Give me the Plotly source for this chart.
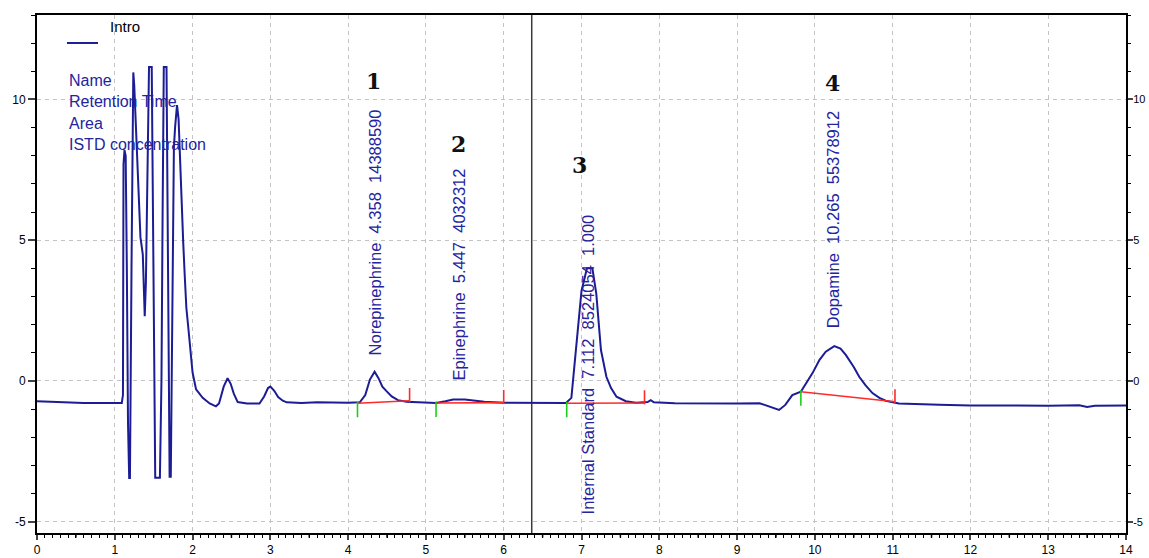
import plotly.graph_objects as go

# ---------------- data ----------------
time_min = [0.00, 0.30, 0.60, 0.90, 1.09, 1.105, 1.108, 1.112, 1.125, 1.14, 1.155, 1.17, 1.185,
            1.195, 1.215, 1.238, 1.25, 1.27, 1.31, 1.33, 1.36, 1.385, 1.40, 1.42, 1.44, 1.475,
            1.49, 1.51, 1.52, 1.58, 1.60, 1.615, 1.63, 1.665, 1.68, 1.695, 1.705, 1.72, 1.735,
            1.76, 1.775, 1.80, 1.82, 1.84, 1.86, 1.88, 1.90, 1.92, 1.945, 1.967, 2.00, 2.045,
            2.13, 2.22, 2.30, 2.34, 2.40, 2.45, 2.49, 2.53, 2.58, 2.70, 2.86, 2.92, 2.97, 3.00,
            3.05, 3.10, 3.16, 3.21, 3.40, 3.60, 3.80, 4.00, 4.15, 4.22, 4.28, 4.34, 4.39, 4.44,
            4.49, 4.56, 4.64, 4.75, 4.90, 5.13, 5.25, 5.35, 5.50, 5.62, 5.75, 6.00, 6.40, 6.80,
            6.87, 6.93, 7.00, 7.07, 7.14, 7.19, 7.25, 7.32, 7.38, 7.45, 7.57, 7.70, 7.85, 7.89,
            7.93, 8.20, 8.60, 9.00, 9.29, 9.45, 9.54, 9.62, 9.71, 9.82, 9.97, 10.06, 10.14,
            10.25, 10.33, 10.40, 10.50, 10.57, 10.65, 10.74, 10.83, 10.91, 11.08, 11.60, 12.00,
            12.50, 13.00, 13.40, 13.50, 13.60, 14.00]
signal = [-0.72, -0.76, -0.78, -0.78, -0.78, -0.50, 1.50, 7.70, 8.20, 8.00, 4.00, -1.50, -3.45,
          -3.45, 4.00, 10.96, 10.50, 9.00, 6.00, 5.10, 4.50, 2.30, 3.50, 8.50, 11.15, 11.15,
          6.00, -2.00, -3.44, -3.44, 0.00, 6.00, 11.15, 11.15, 5.00, -2.00, -3.40, -3.40, 2.00,
          8.30, 9.00, 9.80, 9.30, 7.70, 6.30, 4.90, 3.70, 2.60, 1.90, 1.30, 0.30, -0.30,
          -0.60, -0.80, -0.90, -0.80, -0.20, 0.10, -0.10, -0.45, -0.75, -0.80, -0.80, -0.55, -0.25, -0.20,
          -0.35, -0.57, -0.70, -0.76, -0.78, -0.76, -0.77, -0.77, -0.76, -0.50, 0.05, 0.33, 0.10, -0.20,
          -0.35, -0.55, -0.68, -0.74, -0.76, -0.78, -0.72, -0.66, -0.66, -0.70, -0.74, -0.77, -0.78, -0.78,
          -0.60, 1.10, 3.20, 4.00, 4.00, 3.10, 1.10, 0.15, -0.25, -0.56, -0.72, -0.77, -0.75, -0.68,
          -0.76, -0.79, -0.80, -0.80, -0.79, -0.95, -1.03, -0.85, -0.50, -0.38, 0.28, 0.75, 1.04,
          1.24, 1.15, 0.92, 0.50, 0.15, -0.15, -0.43, -0.60, -0.70, -0.80, -0.84, -0.87,
          -0.87, -0.88, -0.86, -0.92, -0.88, -0.87]

# integration baselines (start / end of each peak)
peak_start = [4.12, 5.13, 6.81, 9.82]
peak_start_level = [-0.79, -0.78, -0.79, -0.38]
peak_end = [4.79, 6.00, 7.81, 11.03]
peak_end_level = [-0.70, -0.77, -0.78, -0.74]

# peak numbers
peak_numbers = ["1", "2", "3", "4"]
number_x = [4.33, 5.42, 6.98, 10.23]
number_y = [10.67, 8.42, 7.66, 10.59]

# vertical peak annotations
peak_labels = ["Norepinephrine  4.358  14388590",
               "Epinephrine  5.447  4032312",
               "Internal Standard  7.112  8524054  1.000",
               "Dopamine  10.265  55378912"]
label_x = [4.35, 5.43, 7.08, 10.23]
label_y = [0.85, -0.04, -4.82, 1.81]

legend_name = "Intro"
info_labels = ["Name", "Retention Time", "Area", "ISTD concentration"]
cursor_time = 6.36

x_ticks = list(range(0, 15))
y_ticks = [-5, 0, 5, 10]
y_tick_text = ["-5", "0", "5", "10"]
x_range = [0, 14]
y_range = [-5.4, 13.0]

# ---------------- styles ----------------
TRACE = "#1c1c94"
TEXT_BLUE = "#24249e"
FONT = "Liberation Sans, Arial, sans-serif"

fig = go.Figure()

# cursor line
fig.add_shape(type="line", xref="x", yref="paper", x0=cursor_time, x1=cursor_time,
              y0=0, y1=1, line=dict(color="#3a3a3a", width=1.5), layer="below")

fig.add_trace(go.Scatter(x=time_min, y=signal, mode="lines", name=legend_name,
                         line=dict(color=TRACE, width=2), showlegend=False))

# integration baselines
bx, by = [], []
for s, sl, e, el in zip(peak_start, peak_start_level, peak_end, peak_end_level):
    bx += [s, e, None]
    by += [sl, el, None]
fig.add_trace(go.Scatter(x=bx, y=by, mode="lines", line=dict(color="#ff2a2a", width=1.6),
                         showlegend=False, hoverinfo="skip"))
# start ticks (green) and end ticks (red)
gx, gy, rx, ry = [], [], [], []
for s, sl, e, el in zip(peak_start, peak_start_level, peak_end, peak_end_level):
    gx += [s, s, None]
    gy += [sl + 0.05, sl - 0.5, None]
    rx += [e, e, None]
    ry += [el - 0.05, el + 0.45, None]
fig.add_trace(go.Scatter(x=gx, y=gy, mode="lines", line=dict(color="#19d019", width=1.6),
                         showlegend=False, hoverinfo="skip"))
fig.add_trace(go.Scatter(x=rx, y=ry, mode="lines", line=dict(color="#ff2a2a", width=1.6),
                         showlegend=False, hoverinfo="skip"))
# invisible trace to anchor the right axis
fig.add_trace(go.Scatter(x=time_min[:1], y=signal[:1], yaxis="y2", mode="markers",
                         marker=dict(opacity=0), showlegend=False, hoverinfo="skip"))

# peak labels
for txt, x, y in zip(peak_labels, label_x, label_y):
    fig.add_annotation(x=x, y=y, xref="x", yref="y", text=txt, textangle=-90,
                       showarrow=False, xanchor="center", yanchor="bottom",
                       font=dict(family=FONT, size=16.5, color=TEXT_BLUE))
for txt, x, y in zip(peak_numbers, number_x, number_y):
    fig.add_annotation(x=x, y=y, xref="x", yref="y", text="<b>%s</b>" % txt,
                       showarrow=False, xanchor="center", yanchor="middle",
                       font=dict(family="DejaVu Serif, serif", size=22, color="#111111"))

# legend box text
fig.add_annotation(x=0.0808, y=0.977, xref="paper", yref="paper", text=legend_name,
                   showarrow=False, xanchor="center", yanchor="middle",
                   font=dict(family=FONT, size=15, color="#000000"))
fig.add_shape(type="line", xref="paper", yref="paper", x0=0.0275, x1=0.056, y0=0.946, y1=0.946,
              line=dict(color=TRACE, width=2))
for i, txt in enumerate(info_labels):
    fig.add_annotation(x=0.0275, y=0.874 - i * 0.0415, xref="paper", yref="paper", text=txt,
                       showarrow=False, xanchor="left", yanchor="middle",
                       font=dict(family=FONT, size=16, color=TEXT_BLUE))

# half-unit ticks on x axis
for h in x_ticks[:-1]:
    fig.add_shape(type="line", xref="x", yref="paper", x0=h + 0.5, x1=h + 0.5,
                  y0=0, y1=-0.009, line=dict(color="#000000", width=1.5))

grid = dict(showgrid=True, gridcolor="#c4c4c4", gridwidth=1, griddash="4px,4px")
fig.update_layout(
    width=1149, height=558,
    margin=dict(l=37, r=23, t=15, b=25, autoexpand=False),
    plot_bgcolor="white", paper_bgcolor="white",
    font=dict(family=FONT, size=12, color="#000000"),
    xaxis=dict(range=x_range, tickvals=x_ticks, ticks="outside", ticklen=5, tickwidth=1.5,
               showline=True, linecolor="#000000", linewidth=2, mirror=True, zeroline=False,
               tickfont=dict(size=12), automargin=False,
               minor=dict(dtick=0.1, tick0=0, ticks="outside", ticklen=3, tickwidth=1,
                          tickcolor="#000000", showgrid=False),
               **grid),
    yaxis=dict(range=y_range, tickvals=y_ticks, ticktext=y_tick_text, ticks="outside",
               ticklen=7, tickwidth=1.5, showline=True, linecolor="#000000", linewidth=2,
               mirror=True, zeroline=False, automargin=False,
               minor=dict(dtick=1, tick0=0, ticks="outside", ticklen=4, tickwidth=1,
                          tickcolor="#000000", showgrid=False),
               **grid),
    yaxis2=dict(range=y_range, tickvals=y_ticks, ticktext=y_tick_text, overlaying="y",
                side="right", ticks="outside", ticklen=5, tickwidth=1.5, showline=True,
                linecolor="#000000", linewidth=2, showgrid=False, zeroline=False,
                automargin=False, tickfont=dict(size=11), ticklabelstandoff=-2,
                minor=dict(dtick=1, tick0=0, ticks="outside", ticklen=3, tickwidth=1,
                           tickcolor="#000000", showgrid=False)),
    showlegend=False,
)

fig.write_html("out.html")
